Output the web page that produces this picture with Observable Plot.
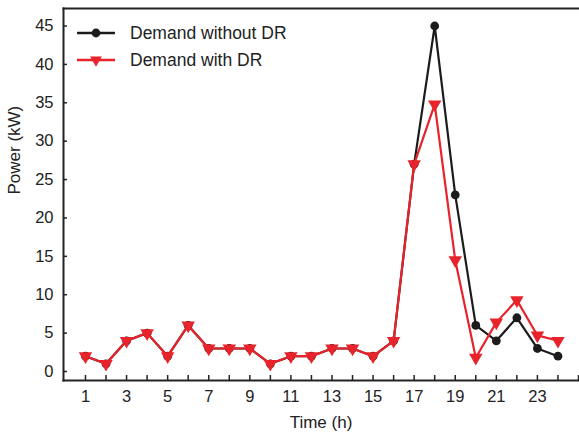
<!DOCTYPE html>
<html>
<head>
<meta charset="utf-8">
<script src="https://cdn.jsdelivr.net/npm/d3@7"></script>
<script src="https://cdn.jsdelivr.net/npm/@observablehq/plot@0.6"></script>
<style>
  html, body { margin: 0; padding: 0; background: #fff; }
  #wrap { position: relative; width: 579px; height: 434px; font-family: "Liberation Sans", Arial, sans-serif; }
  #legend { position: absolute; left: 0; top: 0; }
</style>
</head>
<body>
<div id="wrap"></div>
<script>
const hours = [1,2,3,4,5,6,7,8,9,10,11,12,13,14,15,16,17,18,19,20,21,22,23,24];
const demandWithoutDR = [2,1,4,5,2,6,3,3,3,1,2,2,3,3,2,4,27,45,23,6,4,7,3,2];
const demandWithDR    = [2,1,4,5,2,6,3,3,3,1,2,2,3,3,2,4,27,34.8,14.5,1.8,6.4,9.3,4.7,4.0];
const xTicks = [1,2,3,4,5,6,7,8,9,10,11,12,13,14,15,16,17,18,19,20,21,22,23,24,25];
const xTickLabels = [1,3,5,7,9,11,13,15,17,19,21,23];
const yTicks = [0,5,10,15,20,25,30,35,40,45];
const seriesNames = ["Demand without DR", "Demand with DR"];
const xTitle = "Time (h)";
const yTitle = "Power (kW)";
const colors = ["#1c1c1c", "#e8232b"];

const black = hours.map((h, i) => ({h, v: demandWithoutDR[i]}));
const red = hours.map((h, i) => ({h, v: demandWithDR[i]}));

const font = "Liberation Sans, Arial, sans-serif";
const chart = Plot.plot({
  width: 579,
  height: 434,
  marginLeft: 63,
  marginRight: 1,
  marginTop: 8,
  marginBottom: 54,
  style: {fontFamily: font, fontSize: "16px", color: "#222", background: "#fff"},
  x: {domain: [-0.07, 25], label: null},
  y: {domain: [-1.17, 47.28], label: null},
  marks: [
    Plot.frame({anchor: "left", stroke: "#222", strokeWidth: 2}),
    Plot.frame({anchor: "bottom", stroke: "#222", strokeWidth: 2}),
    Plot.frame({anchor: "top", stroke: "#222", strokeWidth: 2}),
    Plot.tickX(xTicks, {x: d => d, insetTop: 367, stroke: "#222", strokeWidth: 1.5}),
    Plot.tickY(yTicks, {y: d => d, insetRight: 511, stroke: "#222", strokeWidth: 1.5}),
    Plot.axisX(xTickLabels, {tickSize: 0, tickPadding: 10, fontSize: 16.5, fill: "#222", label: null}),
    Plot.axisY(yTicks, {tickSize: 0, tickPadding: 10, fontSize: 16.5, fill: "#222", label: null}),
    Plot.text([xTitle], {frameAnchor: "bottom", dy: 47, fontSize: 17, fill: "#222", text: d => d}),
    Plot.text([yTitle], {frameAnchor: "left", dx: -49, rotate: -90, fontSize: 17, fill: "#222", text: d => d}),
    Plot.line(black, {x: "h", y: "v", stroke: colors[0], strokeWidth: 2.2}),
    Plot.dot(black, {x: "h", y: "v", r: 4.4, fill: colors[0], stroke: "none"}),
    Plot.line(red, {x: "h", y: "v", stroke: colors[1], strokeWidth: 2.2}),
    Plot.dot(red, {x: "h", y: "v", symbol: "triangle", r: 5, rotate: 180, fill: colors[1], stroke: "none"})
  ]
});
document.getElementById("wrap").appendChild(chart);

// legend overlay
const leg = d3.select("#wrap").append("svg")
  .attr("id", "legend").attr("width", 320).attr("height", 80);
const rowsY = [33, 60];
seriesNames.forEach((name, i) => {
  const g = leg.append("g").attr("transform", `translate(0,${rowsY[i]})`);
  g.append("line").attr("x1", 77).attr("x2", 115).attr("y1", 0).attr("y2", 0)
    .attr("stroke", colors[i]).attr("stroke-width", 2.5);
  if (i === 0) {
    g.append("circle").attr("cx", 96).attr("cy", 0).attr("r", 4.4).attr("fill", colors[i]);
  } else {
    g.append("path").attr("d", d3.symbol(d3.symbolTriangle, 60)()).attr("transform", "translate(96,0) rotate(180)").attr("fill", colors[i]);
  }
  g.append("text").attr("x", 130).attr("y", 0).attr("dy", "0.35em")
    .attr("font-family", font).attr("font-size", 17.5).attr("fill", "#222").text(name);
});
</script>
</body>
</html>
